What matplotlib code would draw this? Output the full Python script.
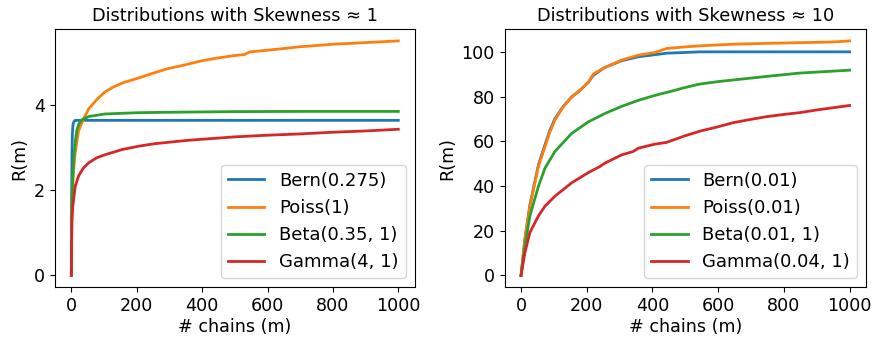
import matplotlib
matplotlib.use("Agg")
import matplotlib.pyplot as plt

# ---- Left panel: skewness ~ 1 ----
bern1_m = [0, 1, 2, 3, 5, 8, 12, 20, 40, 100, 1000]
bern1_r = [0, 1.8, 2.9, 3.3, 3.55, 3.62, 3.65, 3.65, 3.65, 3.65, 3.65]

pois1_m = [0, 1, 3, 6, 12, 22, 37, 53, 78, 103, 130, 160, 199, 250, 292, 350, 398, 450, 494, 530, 545, 599, 650, 697, 750, 798, 850, 900, 950, 1000]
pois1_r = [0, 1.2, 1.9, 2.4, 2.9, 3.40, 3.68, 3.92, 4.14, 4.32, 4.44, 4.54, 4.63, 4.76, 4.86, 4.96, 5.05, 5.12, 5.17, 5.20, 5.26, 5.30, 5.34, 5.38, 5.41, 5.44, 5.46, 5.48, 5.50, 5.52]

beta1_m = [0, 1, 3, 7, 12, 17, 24, 32, 53, 103, 205, 300, 498, 700, 1000]
beta1_r = [0, 1.5, 2.1, 2.72, 3.15, 3.43, 3.58, 3.66, 3.74, 3.80, 3.83, 3.84, 3.855, 3.86, 3.86]

gam1_m = [0, 1, 2, 4, 7, 12, 22, 37, 53, 78, 103, 154, 205, 255, 357, 498, 600, 700, 800, 900, 1000]
gam1_r = [0, 0.9, 1.32, 1.6, 1.79, 2.10, 2.34, 2.53, 2.65, 2.77, 2.84, 2.96, 3.04, 3.10, 3.18, 3.26, 3.30, 3.33, 3.37, 3.40, 3.44]

# ---- Right panel: skewness ~ 10 ----
bern10_m = [0, 12, 27, 53, 73, 88, 103, 128, 154, 179, 205, 220, 255, 306, 357, 407, 443, 498, 544, 600, 800, 1000]
bern10_r = [0, 16.5, 31.5, 49.5, 58.5, 65.0, 70.0, 75.5, 79.8, 82.7, 86.4, 89.5, 93.0, 96.0, 97.8, 98.7, 99.4, 99.7, 100, 100, 100, 100]

pois10_m = [0, 12, 27, 53, 73, 88, 103, 128, 154, 179, 205, 220, 255, 306, 357, 407, 443, 498, 545, 645, 750, 848, 950, 1000]
pois10_r = [0, 16.3, 31.0, 48.7, 57.6, 64.2, 69.4, 75.3, 79.8, 82.7, 86.4, 90.1, 93.0, 96.3, 98.5, 99.7, 101.5, 102.2, 102.7, 103.4, 103.8, 104.1, 104.4, 104.9]

beta10_m = [0, 12, 27, 53, 73, 103, 154, 205, 255, 306, 357, 407, 458, 498, 544, 600, 645, 747, 848, 1000]
beta10_r = [0, 13.3, 26.6, 39.9, 48.0, 55.4, 63.5, 68.7, 72.4, 75.6, 78.3, 80.5, 82.4, 84.0, 85.6, 86.7, 87.4, 89.0, 90.5, 91.8]

gam10_m = [0, 12, 27, 53, 73, 103, 154, 205, 240, 255, 306, 341, 357, 407, 443, 498, 544, 600, 645, 700, 747, 800, 848, 900, 1000]
gam10_r = [0, 10.3, 19.2, 26.6, 31.0, 35.4, 41.4, 46.0, 48.7, 50.2, 53.9, 55.4, 56.9, 58.7, 59.5, 62.4, 64.5, 66.5, 68.3, 69.8, 71.0, 72.0, 72.8, 74.0, 76.0]

labels_left = ["Bern(0.275)", "Poiss(1)", "Beta(0.35, 1)", "Gamma(4, 1)"]
labels_right = ["Bern(0.01)", "Poiss(0.01)", "Beta(0.01, 1)", "Gamma(0.04, 1)"]
title_left = "Distributions with Skewness \u2248 1"
title_right = "Distributions with Skewness \u2248 10"

FS = 12.6
plt.rcParams['font.family'] = ['DejaVu Sans']
plt.rcParams['font.size'] = FS

fig = plt.figure(figsize=(8.73, 3.39), dpi=100)
ax1 = fig.add_axes([0.063, 0.153, 0.412, 0.761])
ax2 = fig.add_axes([0.578, 0.153, 0.414, 0.761])

colors = ['#1f77b4', '#ff7f0e', '#2ca02c', '#d62728']

left = [(bern1_m, bern1_r), (pois1_m, pois1_r), (beta1_m, beta1_r), (gam1_m, gam1_r)]
right = [(bern10_m, bern10_r), (pois10_m, pois10_r), (beta10_m, beta10_r), (gam10_m, gam10_r)]

for (m, r), lab, c in zip(left, labels_left, colors):
    ax1.plot(m, r, color=c, lw=2, label=lab)
for (m, r), lab, c in zip(right, labels_right, colors):
    ax2.plot(m, r, color=c, lw=2, label=lab)

for ax, t in ((ax1, title_left), (ax2, title_right)):
    ax.set_title(t, fontsize=12.8)
    ax.set_xlabel("# chains (m)", fontsize=FS, labelpad=2)
    ax.set_ylabel("R(m)", fontsize=FS, labelpad=4)
    ax.tick_params(labelsize=FS)
    ax.set_xticks([0, 200, 400, 600, 800, 1000])
    ax.legend(loc='lower right', fontsize=13)

ax1.set_yticks([0, 2, 4])
ax2.set_yticks([0, 20, 40, 60, 80, 100])

fig.savefig("out.png", dpi=100)
